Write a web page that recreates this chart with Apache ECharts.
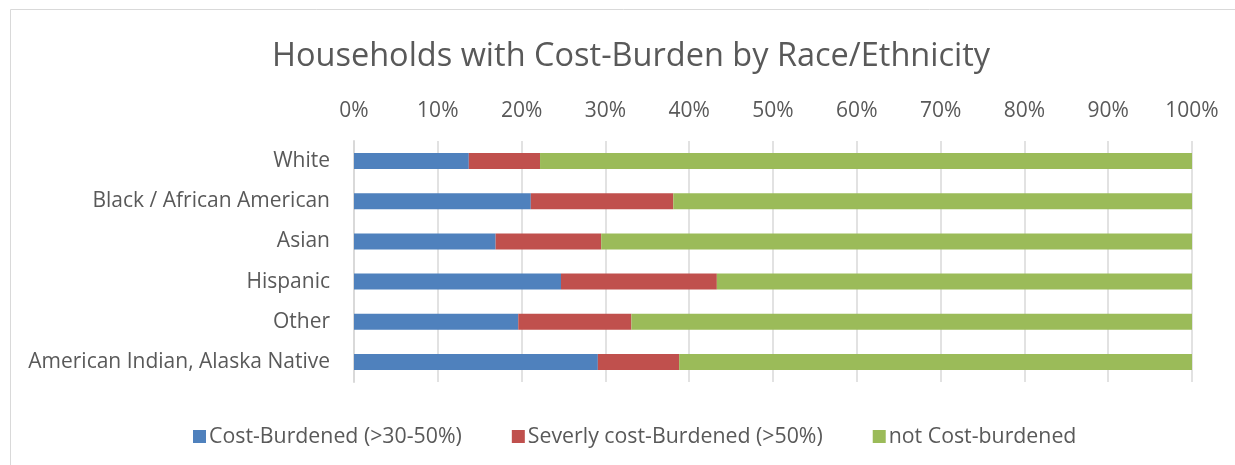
<!DOCTYPE html>
<html><head><meta charset="utf-8">
<script src="https://cdn.jsdelivr.net/npm/echarts@6/dist/echarts.min.js"></script>
<style>html,body{margin:0;padding:0;background:#fff}#c{width:1235px;height:465px}</style>
</head><body><div id="c"></div>
<script>
const categories = ["White","Black / African American","Asian","Hispanic","Other","American Indian, Alaska Native"];
const costBurdened = [13.7, 21.1, 16.9, 24.7, 19.6, 29.1];
const severelyBurdened = [8.5, 17.0, 12.6, 18.6, 13.5, 9.7];
const notBurdened = [77.8, 61.9, 70.5, 56.7, 66.9, 61.2];
const seriesNames = ["Cost-Burdened (>30-50%)","Severly cost-Burdened (>50%)","not Cost-burdened"];
const colors = ["#4f81bd","#c0504d","#9bbb59"];
const FONT = "Open Sans";

const chart = echarts.init(document.getElementById('c'));
const mk = (name, data, color) => ({
  name, type: 'bar', stack: 'total', data, barWidth: 16,
  itemStyle: { color }, emphasis: { disabled: true }
});
chart.setOption({
  animation: false,
  textStyle: { fontFamily: FONT },
  graphic: [{ type: 'rect', shape: { x: 10.5, y: 9.5, width: 1400, height: 600 },
    style: { fill: 'none', stroke: '#d9d9d9', lineWidth: 1 }, silent: true }],
  title: { text: "Households with Cost-Burden by Race/Ethnicity", left: 267, top: 35,
    textStyle: { fontFamily: FONT, fontSize: 32.5, fontWeight: 'normal', color: '#595959' } },
  legend: { bottom: 13, left: 188, itemWidth: 13, itemHeight: 13, itemGap: 50,
    icon: 'rect', data: seriesNames,
    textStyle: { fontFamily: FONT, fontSize: 21.3, color: '#595959', padding: [0, 0, 0, -2] } },
  grid: { left: 354, right: 43, top: 141, height: 241, containLabel: false },
  xAxis: { type: 'value', position: 'top', min: 0, max: 100, interval: 10,
    axisLabel: { formatter: '{value}%', fontSize: 21, color: '#595959', margin: 19, fontFamily: FONT },
    axisLine: { show: false }, axisTick: { show: false },
    splitLine: { lineStyle: { color: '#d9d9d9', width: 1.5 } } },
  yAxis: { type: 'category', inverse: true, data: categories,
    axisLine: { show: true, lineStyle: { color: '#d9d9d9', width: 2 } },
    axisTick: { show: false },
    axisLabel: { fontSize: 21, color: '#595959', margin: 24, fontFamily: FONT, padding: [4, 0, 0, 0] } },
  series: [
    mk(seriesNames[0], costBurdened, colors[0]),
    mk(seriesNames[1], severelyBurdened, colors[1]),
    mk(seriesNames[2], notBurdened, colors[2])
  ]
});
</script></body></html>
